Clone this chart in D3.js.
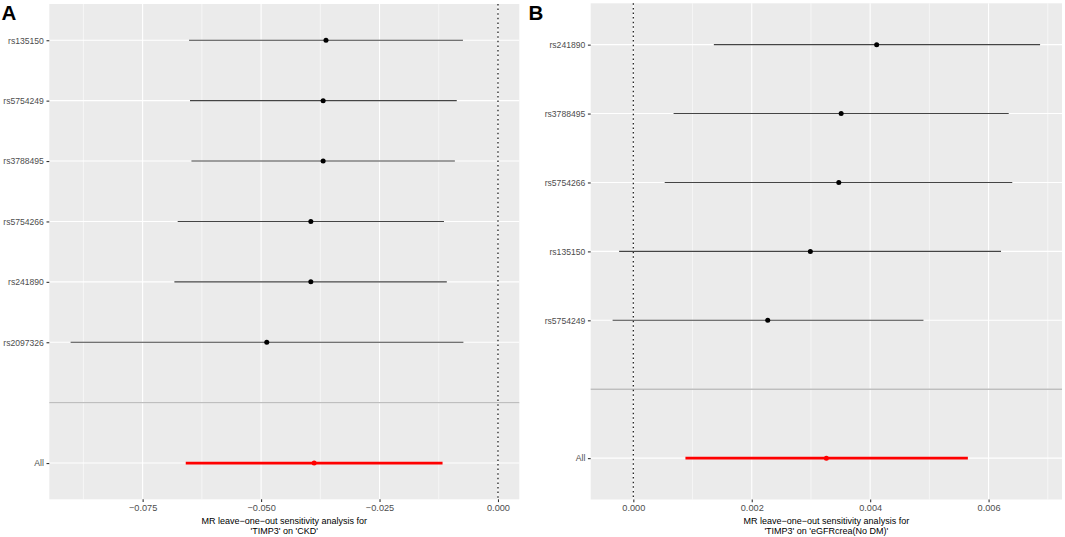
<!DOCTYPE html>
<html>
<head>
<meta charset="utf-8">
<script src="https://cdn.jsdelivr.net/npm/d3@7"></script>
<style>
  body { margin: 0; background: #fff; }
  svg { font-family: "Liberation Sans", Arial, sans-serif; }
  .tick text { fill: #4d4d4d; }
</style>
</head>
<body>
<svg id="chart" width="1065" height="537"></svg>
<script>
// ---- panel A : 'TIMP3' on 'CKD'
const snpsA = ["rs135150", "rs5754249", "rs3788495", "rs5754266", "rs241890", "rs2097326", "All"];
const betaA = [-0.0363, -0.0369, -0.0369, -0.0395, -0.0395, -0.0488, -0.0388];
const loA   = [-0.0652, -0.0650, -0.0647, -0.0676, -0.0683, -0.0902, -0.0659];
const upA   = [-0.0074, -0.0087, -0.0091, -0.0114, -0.0108, -0.0073, -0.0117];
const ticksA = [-0.075, -0.05, -0.025, 0];
const minorA = [-0.0875, -0.0625, -0.0375, -0.0125];
const xDomainA = [-0.0947, 0.0045];

// ---- panel B : 'TIMP3' on 'eGFRcrea(No DM)'
const snpsB = ["rs241890", "rs3788495", "rs5754266", "rs135150", "rs5754249", "All"];
const betaB = [0.00411, 0.00351, 0.00347, 0.00299, 0.00227, 0.00326];
const loB   = [0.00136, 0.00068, 0.00053, -0.00024, -0.00035, 0.00088];
const upB   = [0.00687, 0.00634, 0.00640, 0.00621, 0.00490, 0.00565];
const ticksB = [0, 0.002, 0.004, 0.006];
const minorB = [0.001, 0.003, 0.005, 0.007];
const xDomainB = [-0.00072, 0.00724];

const svg = d3.select("#chart");

function drawPanel(p) {
    let g = svg.append("g");

    // "" is the empty row the grey separator sits on, just above All
    let cats = p.snps.slice(0, -1).concat(["", "All"]);
    let x = d3.scaleLinear().domain(p.domain).range([p.left, p.right]);
    let y = d3.scalePoint().domain(cats).range([p.top, p.bottom]).padding(0.6);

    g.append("rect")
        .attr("x", p.left).attr("y", p.top)
        .attr("width", p.right - p.left).attr("height", p.bottom - p.top)
        .attr("fill", "#ebebeb");

    // grid
    g.selectAll(".minor").data(p.minor).enter().append("line")
        .attr("x1", d => x(d)).attr("x2", d => x(d))
        .attr("y1", p.top).attr("y2", p.bottom)
        .attr("stroke", "#fff").attr("stroke-width", 0.55);
    g.selectAll(".majorx").data(p.ticks).enter().append("line")
        .attr("x1", d => x(d)).attr("x2", d => x(d))
        .attr("y1", p.top).attr("y2", p.bottom)
        .attr("stroke", "#fff").attr("stroke-width", 1.1);
    g.selectAll(".majory").data(cats).enter().append("line")
        .attr("x1", p.left).attr("x2", p.right)
        .attr("y1", d => y(d)).attr("y2", d => y(d))
        .attr("stroke", "#fff").attr("stroke-width", 1.1);

    // separator + zero line
    g.append("line")
        .attr("x1", p.left).attr("x2", p.right)
        .attr("y1", y("")).attr("y2", y(""))
        .attr("stroke", "#bebebe").attr("stroke-width", 1.4);
    g.append("line")
        .attr("x1", x(0)).attr("x2", x(0))
        .attr("y1", p.top).attr("y2", p.bottom)
        .attr("stroke", "#222").attr("stroke-width", 1.3)
        .attr("stroke-dasharray", "1.5,3.1");

    // estimates
    let rows = p.snps.map((s, i) => ({snp: s, b: p.beta[i], lo: p.lo[i], up: p.up[i]}));
    let isAll = d => d.snp == "All";
    g.selectAll(".ci").data(rows).enter().append("line")
        .attr("x1", d => x(d.lo)).attr("x2", d => x(d.up))
        .attr("y1", d => y(d.snp)).attr("y2", d => y(d.snp))
        .attr("stroke", d => isAll(d) ? "#ff0000" : "#444")
        .attr("stroke-width", d => isAll(d) ? 2.8 : 1.1);
    g.selectAll(".pt").data(rows).enter().append("circle")
        .attr("cx", d => x(d.b)).attr("cy", d => y(d.snp))
        .attr("r", 2.5)
        .attr("fill", d => isAll(d) ? "#ff0000" : "#000");

    // axes
    let xAxis = d3.axisBottom(x).tickValues(p.ticks)
        .tickFormat(d3.format(".3f")).tickSize(2.8).tickSizeOuter(0).tickPadding(2.5);
    let ax = g.append("g").attr("transform", "translate(0," + p.bottom + ")").call(xAxis);
    ax.select(".domain").remove();
    ax.selectAll(".tick line").attr("stroke", "#333").attr("stroke-width", 1.1);
    ax.selectAll(".tick text").attr("font-size", 9.2);

    let yAxis = d3.axisLeft(y).tickValues(cats.filter(c => c != ""))
        .tickSize(2.8).tickSizeOuter(0).tickPadding(2.6);
    let ay = g.append("g").attr("transform", "translate(" + p.left + ",0)").call(yAxis);
    ay.select(".domain").remove();
    ay.selectAll(".tick line").attr("stroke", "#333").attr("stroke-width", 1.1);
    ay.selectAll(".tick text").attr("font-size", 8.6);

    let cx = (p.left + p.right) / 2;
    let title = g.append("text").attr("text-anchor", "middle")
        .attr("font-size", 9).attr("fill", "#000");
    title.append("tspan").attr("x", cx).attr("y", 523.5)
        .text("MR leave\u2212one\u2212out sensitivity analysis for");
    title.append("tspan").attr("x", cx).attr("y", 533.5).text(p.sub);

    svg.append("text").attr("x", p.tagX).attr("y", 20)
        .attr("font-size", 20.5).attr("font-weight", "bold")
        .attr("font-family", "Liberation Sans, Arial, sans-serif")
        .text(p.tag);
}

drawPanel({
    snps: snpsA, beta: betaA, lo: loA, up: upA,
    ticks: ticksA, minor: minorA, domain: xDomainA,
    left: 49.3, right: 519.3, top: 4, bottom: 499.3,
    sub: "'TIMP3' on 'CKD'", tag: "A", tagX: 1.5
});
drawPanel({
    snps: snpsB, beta: betaB, lo: loB, up: upB,
    ticks: ticksB, minor: minorB, domain: xDomainB,
    left: 590.7, right: 1062, top: 3.3, bottom: 499.5,
    sub: "'TIMP3' on 'eGFRcrea(No DM)'", tag: "B", tagX: 528.5
});
</script>
</body>
</html>
